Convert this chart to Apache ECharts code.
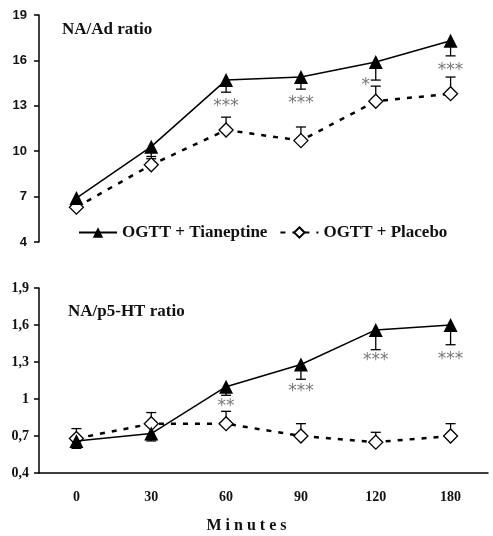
<!DOCTYPE html>
<html>
<head>
<meta charset="utf-8">
<script src="https://cdn.jsdelivr.net/npm/echarts@6/dist/echarts.min.js"></script>
<style>
html,body{margin:0;padding:0;background:#fff;}
#chart{width:493px;height:536px;}
</style>
</head>
<body>
<div id="chart"></div>
<script>
// data
var minutes = ['0', '30', '60', '90', '120', '180'];

var tianAd = [6.9, 10.3, 14.7, 14.9, 15.9, 17.3];
var tianAdErr = [0.3, 0.65, 0.8, 0.8, 1.2, 1.0];
var placAd = [6.3, 9.1, 11.4, 10.7, 13.3, 13.8];
var placAdErr = [0.3, 0.4, 0.85, 0.9, 1.0, 1.1];
var starsAd = [[2, 13.2, '***'], [3, 13.4, '***'], [4, 14.6, '*'], [5, 15.6, '***']];

var tianHt = [0.66, 0.72, 1.10, 1.28, 1.56, 1.60];
var tianHtErr = [0.06, 0.06, 0.07, 0.12, 0.16, 0.16];
var placHt = [0.68, 0.80, 0.80, 0.70, 0.65, 0.70];
var placHtErr = [0.08, 0.09, 0.1, 0.1, 0.08, 0.1];
var starsHt = [[2, 0.97, '**'], [3, 1.09, '***'], [4, 1.34, '***'], [5, 1.35, '***']];

var serif = '"Liberation Serif", "Times New Roman", serif';

function errData(vals, errs, dir) {
  return vals.map(function (v, i) { return [i, v, v + dir * errs[i]]; });
}

function errBars(params, api) {
  var p1 = api.coord([api.value(0), api.value(1)]);
  var p2 = api.coord([api.value(0), api.value(2)]);
  var st = {stroke: '#000', lineWidth: 1.3};
  return {
    type: 'group',
    children: [
      {type: 'line', shape: {x1: p1[0], y1: p1[1], x2: p2[0], y2: p2[1]}, style: st},
      {type: 'line', shape: {x1: p2[0] - 5, y1: p2[1], x2: p2[0] + 5, y2: p2[1]}, style: st}
    ]
  };
}

function fmtComma(v) {
  var r = Math.round(v * 10) / 10;
  return (r % 1 === 0 ? String(r) : r.toFixed(1)).replace('.', ',');
}

var tianStyle = {
  type: 'line', name: 'OGTT + Tianeptine', symbol: 'triangle', symbolSize: 14,
  itemStyle: {color: '#000'}, lineStyle: {color: '#000', width: 1.5}, z: 5
};
var placStyle = {
  type: 'line', name: 'OGTT + Placebo', symbol: 'diamond', symbolSize: 14,
  itemStyle: {color: '#fff', borderColor: '#000', borderWidth: 1.3},
  lineStyle: {color: '#000', width: 2.5, type: [5, 7]}, z: 4
};

var starLabel = {
  show: true, position: 'inside', offset: [0, 4],
  fontFamily: '"DejaVu Sans", sans-serif', fontSize: 17, color: '#555'
};

var chart = echarts.init(document.getElementById('chart'));
chart.setOption({
  animation: false,
  title: [
    {text: 'NA/Ad ratio', left: 57, top: 16, textStyle: {fontFamily: serif, fontSize: 17, fontWeight: 'bold', color: '#111'}},
    {text: 'NA/p5-HT ratio', left: 63, top: 298, textStyle: {fontFamily: serif, fontSize: 17, fontWeight: 'bold', color: '#111'}},
    {text: 'M i n u t e s', left: 'center', top: 513, textStyle: {fontFamily: serif, fontSize: 16, fontWeight: 'bold', color: '#111'}}
  ],
  legend: {
    left: 73, top: 219, itemWidth: 38, itemHeight: 13, itemGap: 12,
    data: ['OGTT + Tianeptine', 'OGTT + Placebo'],
    textStyle: {fontFamily: serif, fontSize: 17, fontWeight: 'bold', color: '#111'}
  },
  grid: [
    {left: 39, top: 15, width: 449, height: 227},
    {left: 39, top: 288, width: 449, height: 185}
  ],
  xAxis: [
    {type: 'category', gridIndex: 0, data: minutes, show: false},
    {
      type: 'category', gridIndex: 1, data: minutes,
      axisLine: {lineStyle: {color: '#000', width: 1.5}},
      axisTick: {length: 5, lineStyle: {color: '#000', width: 1.5}},
      axisLabel: {margin: 17, fontFamily: serif, fontSize: 14, fontWeight: 'bold', color: '#111'}
    }
  ],
  yAxis: [
    {
      type: 'value', gridIndex: 0, min: 4, max: 19, interval: 3,
      splitLine: {show: false},
      axisLine: {show: true, lineStyle: {color: '#000', width: 1.5}},
      axisTick: {show: true, length: 5, lineStyle: {color: '#000', width: 1.5}},
      axisLabel: {margin: 12, fontFamily: '"Liberation Sans", Arial, sans-serif', fontSize: 13, fontWeight: 'bold', color: '#111'}
    },
    {
      type: 'value', gridIndex: 1, min: 0.4, max: 1.9, interval: 0.3,
      splitLine: {show: false},
      axisLine: {show: true, lineStyle: {color: '#000', width: 1.5}},
      axisTick: {show: true, length: 5, lineStyle: {color: '#000', width: 1.5}},
      axisLabel: {margin: 10, fontFamily: serif, fontSize: 14, fontWeight: 'bold', color: '#111', formatter: fmtComma}
    }
  ],
  series: [
    Object.assign({}, tianStyle, {xAxisIndex: 0, yAxisIndex: 0, data: tianAd}),
    Object.assign({}, placStyle, {xAxisIndex: 0, yAxisIndex: 0, data: placAd}),
    Object.assign({}, tianStyle, {xAxisIndex: 1, yAxisIndex: 1, data: tianHt}),
    Object.assign({}, placStyle, {xAxisIndex: 1, yAxisIndex: 1, data: placHt}),
    {type: 'custom', xAxisIndex: 0, yAxisIndex: 0, renderItem: errBars, data: errData(tianAd, tianAdErr, -1), z: 3},
    {type: 'custom', xAxisIndex: 0, yAxisIndex: 0, renderItem: errBars, data: errData(placAd, placAdErr, 1), z: 3},
    {type: 'custom', xAxisIndex: 1, yAxisIndex: 1, renderItem: errBars, data: errData(tianHt, tianHtErr, -1), z: 3},
    {type: 'custom', xAxisIndex: 1, yAxisIndex: 1, renderItem: errBars, data: errData(placHt, placHtErr, 1), z: 3},
    {
      type: 'scatter', xAxisIndex: 0, yAxisIndex: 0, symbolSize: 0, silent: true, label: starLabel,
      data: starsAd.map(function (s) { return {value: [s[0], s[1]], label: {formatter: s[2], offset: s[2] === '*' ? [-10, 4] : [0, 4]}}; })
    },
    {
      type: 'scatter', xAxisIndex: 1, yAxisIndex: 1, symbolSize: 0, silent: true, label: starLabel,
      data: starsHt.map(function (s) { return {value: [s[0], s[1]], label: {formatter: s[2]}}; })
    }
  ]
});
</script>
</body>
</html>
